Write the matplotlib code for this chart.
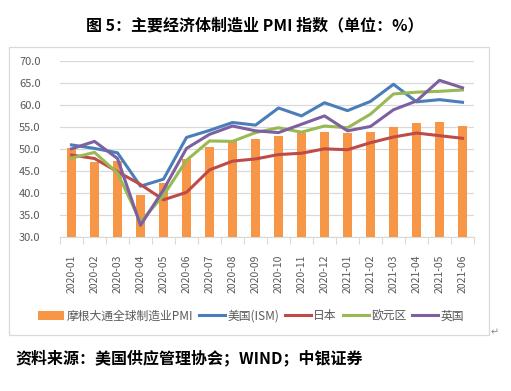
import numpy as np
import matplotlib.pyplot as plt
from matplotlib.patches import Rectangle

plt.rcParams['font.family'] = ['Noto Sans CJK SC', 'DejaVu Sans']

months = ['2020-01', '2020-02', '2020-03', '2020-04', '2020-05', '2020-06',
          '2020-07', '2020-08', '2020-09', '2020-10', '2020-11', '2020-12',
          '2021-01', '2021-02', '2021-03', '2021-04', '2021-05', '2021-06']
global_pmi = [50.3, 46.9, 47.2, 39.4, 42.3, 47.8, 50.5, 51.7, 52.3, 53.0, 53.7, 53.8,
              53.5, 53.8, 54.9, 55.8, 56.0, 55.3]
us_ism = [50.9, 50.1, 49.1, 41.5, 43.1, 52.6, 54.2, 56.0, 55.4, 59.3, 57.5, 60.5,
          58.7, 60.8, 64.7, 60.7, 61.2, 60.6]
japan = [48.6, 47.8, 44.8, 41.9, 38.4, 40.1, 45.2, 47.2, 47.7, 48.7, 49.0, 50.0,
         49.8, 51.4, 52.7, 53.6, 53.0, 52.4]
euro = [47.9, 49.2, 44.5, 33.4, 39.4, 47.4, 51.8, 51.7, 53.7, 54.8, 53.8, 55.2,
        54.8, 57.9, 62.5, 62.9, 63.1, 63.4]
uk = [50.0, 51.7, 47.8, 32.6, 40.7, 50.1, 53.3, 55.2, 54.1, 53.7, 55.6, 57.5,
      54.1, 55.1, 58.9, 60.9, 65.6, 63.9]

gray = '#595959'
fig = plt.figure(figsize=(5.11, 3.91), dpi=100)
ax = fig.add_axes([60/511, 1-236.7/391, 414/511, 175.7/391])

x = np.arange(len(months))
bars = ax.bar(x, global_pmi, width=0.42, color='#F79646', label='摩根大通全球制造业PMI', zorder=2)
lw = 2.2
l1, = ax.plot(x, us_ism, color='#4A7EBB', lw=lw, label='美国(ISM)', zorder=3)
l2, = ax.plot(x, japan, color='#BE4B48', lw=lw, label='日本', zorder=3)
l3, = ax.plot(x, euro, color='#98B954', lw=lw, label='欧元区', zorder=3)
l4, = ax.plot(x, uk, color='#7D60A0', lw=lw, label='英国', zorder=3)

ax.set_ylim(30, 70)
ax.set_yticks(np.arange(30, 71, 5))
ax.set_yticklabels([f'{v:.1f}' for v in np.arange(30, 71, 5)])
ax.set_xlim(-0.5, len(months) - 0.5)
ax.set_xticks(x)
ax.set_xticklabels(months, rotation=90, va='top', ha='center')
ax.set_xticks(np.arange(-0.5, len(months)), minor=True)
ax.tick_params(axis='x', which='major', length=0, pad=13, labelsize=7.5, labelcolor=gray)
ax.tick_params(axis='x', which='minor', length=5, color='#D9D9D9', width=0.8)
ax.tick_params(axis='y', length=0, pad=14, labelsize=8, labelcolor=gray)
ax.grid(axis='y', color='#D9D9D9', lw=0.9, zorder=0)
for s in ['top', 'right', 'left']:
    ax.spines[s].set_visible(False)
ax.spines['bottom'].set_color('#D9D9D9')
ax.spines['bottom'].set_zorder(1)

ax.legend(handles=[bars, l1, l2, l3, l4], loc='center',
          bbox_to_anchor=(251/511, 1-316/391), bbox_transform=fig.transFigure,
          ncol=5, frameon=False, fontsize=8.5, handlelength=2.2, handletextpad=0.2,
          columnspacing=0.5, labelcolor=gray)

fig.patches.append(Rectangle((9/511, 1-335/391), 480/511, 288/391, transform=fig.transFigure,
                             fill=False, edgecolor='#D9D9D9', lw=0.9))

fig.text(255/511, 1-25/391, '图 5：主要经济体制造业 PMI 指数（单位：%）', ha='center', va='center',
         fontsize=11.5, fontweight='bold', color='black')
fig.text(491/511, 1-332/391, '↵', ha='left', va='center', fontsize=7, color='#888888')
fig.text(15/511, 1-358/391, '资料来源：美国供应管理协会；WIND；中银证券', ha='left', va='center',
         fontsize=11.5, fontweight='bold', color='black')

fig.savefig('out.png', dpi=100)
